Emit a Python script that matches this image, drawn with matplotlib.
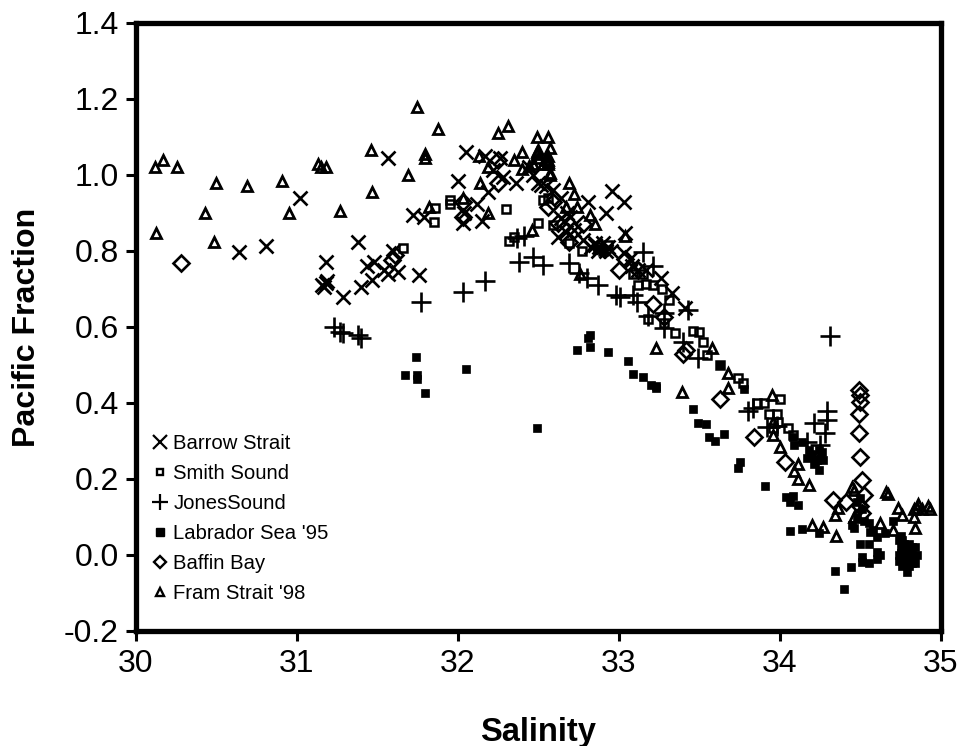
import matplotlib
matplotlib.use("Agg")
import matplotlib.pyplot as plt
from matplotlib.lines import Line2D

plt.rcParams['font.family'] = ['Liberation Sans', 'DejaVu Sans']

barrow_x = [30.64, 30.81, 31.02, 31.18, 31.16, 31.19, 31.17, 31.18, 31.29, 31.38, 31.40, 31.47, 31.44, 31.48,
            31.54, 31.57, 31.63, 31.60, 31.57, 31.76, 31.72, 31.79, 32.00, 32.05, 32.03, 32.04, 32.12, 32.15,
            32.19, 32.17, 32.26, 32.22, 32.36, 32.28, 32.50, 32.44, 32.64, 32.59, 32.81, 32.96, 33.03, 32.92,
            32.62, 32.64, 32.72, 32.85, 32.88, 32.92, 33.04, 33.03, 33.07, 33.26, 33.33, 33.41, 32.52, 32.47,
            32.55, 32.67, 32.78, 33.17, 32.85, 32.87, 32.90, 32.83, 32.93, 32.95, 32.70, 32.68, 32.66, 33.08,
            33.12]
barrow_y = [0.797, 0.813, 0.94, 0.77, 0.71, 0.72, 0.705, 0.715, 0.68, 0.823, 0.705, 0.725, 0.76, 0.77,
            0.75, 0.74, 0.745, 0.80, 1.045, 0.737, 0.895, 0.89, 0.985, 1.06, 0.875, 0.90, 0.925, 0.88,
            0.955, 1.05, 1.045, 1.013, 0.98, 0.995, 0.98, 1.02, 0.94, 0.96, 0.93, 0.958, 0.93, 0.90,
            0.837, 0.887, 0.855, 0.815, 0.81, 0.80, 0.847, 0.795, 0.78, 0.73, 0.69, 0.65, 0.975, 1.0,
            0.97, 0.85, 0.83, 0.75, 0.82, 0.80, 0.82, 0.81, 0.81, 0.80, 0.89, 0.90, 0.88, 0.76,
            0.75]

smith_x = [31.66, 31.86, 31.85, 31.95, 31.95, 32.30, 32.32, 32.35, 32.50, 32.53, 32.56, 32.59, 32.69, 32.77,
           33.15, 33.17, 33.21, 33.27, 33.31, 33.18, 33.28, 33.35, 33.46, 33.50, 33.52, 33.55, 33.63, 33.74,
           33.77, 33.86, 33.90, 34.00, 33.93, 33.98, 33.99, 34.05, 33.96, 34.08, 32.87, 32.90, 32.93, 33.12,
           33.09]
smith_y = [0.808, 0.913, 0.876, 0.935, 0.925, 0.91, 0.827, 0.837, 0.873, 0.934, 0.94, 0.868, 0.82, 0.80,
           0.74, 0.713, 0.71, 0.70, 0.67, 0.62, 0.61, 0.585, 0.59, 0.587, 0.56, 0.526, 0.50, 0.465,
           0.452, 0.40, 0.40, 0.41, 0.37, 0.37, 0.35, 0.334, 0.334, 0.315, 0.81, 0.80, 0.815, 0.71,
           0.74]

jones_x = [31.23, 31.27, 31.29, 31.38, 31.40, 31.77, 32.03, 32.17, 32.38, 32.47, 32.53, 32.69, 32.75, 32.80,
           32.87, 32.98, 33.01, 33.09, 33.15, 33.21, 32.41, 32.37, 33.11, 33.18, 33.28, 33.28, 33.43, 33.40,
           33.49, 33.80, 33.83, 33.92, 33.98, 34.31, 34.29, 34.29, 34.21, 34.28, 34.25, 34.17]
jones_y = [0.60, 0.587, 0.584, 0.579, 0.571, 0.665, 0.692, 0.72, 0.771, 0.784, 0.763, 0.768, 0.742, 0.729,
           0.71, 0.684, 0.68, 0.684, 0.797, 0.76, 0.84, 0.834, 0.666, 0.63, 0.637, 0.597, 0.645, 0.56,
           0.518, 0.38, 0.387, 0.337, 0.34, 0.576, 0.38, 0.355, 0.347, 0.32, 0.29, 0.297]

labrador_x = [31.67, 31.74, 31.75, 31.75, 31.80, 32.05, 32.49, 32.82, 32.81, 32.74, 32.82, 32.93, 33.06, 33.09,
              33.15, 33.20, 33.23, 33.23, 33.46, 33.49, 33.54, 33.56, 33.60, 33.65, 33.75, 33.74, 33.78, 33.91,
              34.04, 34.06, 34.11, 34.08, 34.06, 34.14, 34.24, 34.34, 34.44, 34.40, 34.08, 34.09, 34.14, 34.18,
              34.20, 34.24, 34.25, 34.22, 34.24, 34.17, 34.27, 34.48, 34.45, 34.55, 34.58, 34.60, 34.65, 34.70,
              34.50, 34.55, 34.51, 34.51, 34.55, 34.60, 34.62, 34.60, 34.76, 34.75, 34.74, 34.76, 34.78, 34.80,
              34.79, 34.82, 34.83, 34.81, 34.79, 34.77, 34.74, 34.82, 33.63, 34.75, 34.80, 34.50, 34.51, 34.48,
              34.46, 34.52, 34.56, 34.74, 34.75, 34.80, 34.84, 34.85, 34.84, 34.78, 34.76, 34.23, 34.26, 34.21,
              34.19]
labrador_y = [0.474, 0.521, 0.474, 0.463, 0.426, 0.489, 0.334, 0.58, 0.57, 0.54, 0.547, 0.534, 0.51, 0.476,
              0.468, 0.447, 0.44, 0.445, 0.384, 0.347, 0.345, 0.31, 0.30, 0.318, 0.245, 0.23, 0.437, 0.182,
              0.153, 0.14, 0.132, 0.155, 0.063, 0.068, 0.058, -0.042, -0.032, -0.09, 0.31, 0.29, 0.297, 0.276,
              0.263, 0.276, 0.255, 0.245, 0.224, 0.255, 0.25, 0.14, 0.08, 0.085, 0.065, 0.048, 0.058, 0.09,
              0.03, 0.03, -0.005, -0.018, -0.02, -0.01, 0.0, 0.008, 0.04, 0.02, 0.0, -0.01, -0.02, -0.03,
              -0.045, -0.02, -0.01, 0.0, 0.01, 0.03, -0.015, 0.02, 0.50, 0.005, -0.005, 0.15, 0.12, 0.10,
              0.07, 0.09, 0.06, 0.04, 0.05, 0.03, 0.02, 0.0, -0.02, 0.0, -0.03, 0.25, 0.27, 0.24,
              0.265]

baffin_x = [30.28, 31.61, 31.59, 32.03, 32.03, 32.25, 32.25, 32.56, 32.59, 32.78, 32.62, 32.72, 32.69, 33.00,
            33.04, 33.12, 33.21, 33.28, 33.40, 33.42, 33.63, 33.84, 34.03, 34.33, 34.41, 34.49, 34.50, 34.50,
            34.49, 34.49, 34.50, 34.51, 34.52, 34.50, 34.51]
baffin_y = [0.768, 0.79, 0.776, 0.93, 0.89, 0.98, 1.04, 0.915, 0.93, 0.87, 0.873, 0.855, 0.824, 0.75,
            0.78, 0.75, 0.66, 0.626, 0.53, 0.54, 0.41, 0.31, 0.245, 0.145, 0.14, 0.434, 0.42, 0.403,
            0.37, 0.32, 0.258, 0.197, 0.158, 0.13, 0.11]

fram_x = [30.13, 30.12, 30.17, 30.26, 30.50, 30.43, 30.49, 30.69, 30.91, 30.95, 31.13, 31.15, 31.18, 31.27,
          31.46, 31.47, 31.75, 31.88, 32.25, 31.80, 31.80, 31.69, 31.82, 32.03, 32.13, 32.14, 32.19, 32.19,
          32.31, 32.49, 32.56, 32.57, 32.56, 32.57, 32.49, 32.40, 32.35, 32.44, 32.40, 32.69, 32.72, 32.67,
          32.74, 32.85, 32.82, 32.46, 32.76, 33.04, 33.23, 33.39, 33.58, 33.68, 33.68, 33.95, 33.96, 33.96,
          34.00, 34.11, 34.09, 34.11, 34.18, 34.36, 34.34, 34.20, 34.27, 34.35, 34.45, 34.66, 34.46, 34.62,
          34.70, 34.84, 34.73, 34.76, 34.83, 34.86, 34.92, 34.83, 34.88, 34.93, 32.47, 32.54, 32.50, 32.53,
          32.56, 32.56, 32.57, 32.56, 32.49, 32.50, 34.46, 34.67, 34.85]
fram_y = [0.848, 1.02, 1.04, 1.02, 0.98, 0.90, 0.825, 0.97, 0.985, 0.90, 1.03, 1.02, 1.02, 0.905,
          1.065, 0.955, 1.18, 1.12, 1.11, 1.055, 1.045, 1.0, 0.915, 0.94, 1.05, 0.98, 0.90, 1.02,
          1.13, 1.10, 1.10, 1.07, 1.035, 1.005, 1.06, 1.06, 1.04, 1.025, 1.015, 0.98, 0.95, 0.915,
          0.915, 0.87, 0.895, 0.855, 0.74, 0.84, 0.545, 0.43, 0.545, 0.48, 0.44, 0.42, 0.35, 0.315,
          0.285, 0.24, 0.22, 0.20, 0.185, 0.125, 0.105, 0.08, 0.075, 0.05, 0.18, 0.165, 0.10, 0.085,
          0.065, 0.07, 0.125, 0.105, 0.10, 0.135, 0.13, 0.12, 0.12, 0.12, 1.03, 1.04, 1.045, 1.03,
          1.04, 1.03, 1.0, 1.05, 1.055, 1.065, 0.17, 0.16, 0.125]

labels = ["Barrow Strait", "Smith Sound", "JonesSound", "Labrador Sea '95", "Baffin Bay", "Fram Strait '98"]
x_ticks = [30, 31, 32, 33, 34, 35]
y_ticks = [-0.2, 0.0, 0.2, 0.4, 0.6, 0.8, 1.0, 1.2, 1.4]

fig = plt.figure(figsize=(9.6, 7.46), dpi=100)
ax = fig.add_axes([135.5 / 960, (746 - 631) / 746, (941 - 135.5) / 960, (631 - 23) / 746])

ax.plot(barrow_x, barrow_y, 'x', color='k', ms=10.5, mew=1.9)
ax.plot(smith_x, smith_y, 's', mfc='none', mec='k', ms=6, mew=1.8)
ax.plot(jones_x, jones_y, '+', color='k', ms=14, mew=1.9)
ax.plot(labrador_x, labrador_y, 's', color='k', ms=6, mew=0.5)
ax.plot(baffin_x, baffin_y, 'D', mfc='none', mec='k', ms=8.5, mew=1.9)
ax.plot(fram_x, fram_y, '^', mfc='none', mec='k', ms=6.5, mew=2.0)

ax.set_xlim(30, 35)
ax.set_ylim(-0.2, 1.4)
ax.set_xticks(x_ticks)
ax.set_yticks(y_ticks)
ax.set_yticklabels(['%.1f' % v for v in y_ticks])
ax.tick_params(axis='x', direction='out', length=7, width=2.2, labelsize=23, pad=6)
ax.tick_params(axis='y', direction='out', length=7, width=2.2, labelsize=23, pad=5)
for side in ax.spines.values():
    side.set_linewidth(3.8)

ax.set_xlabel('Salinity', fontsize=23.5, fontweight='bold', labelpad=27)
ax.set_ylabel('Pacific Fraction', fontsize=23.1, fontweight='bold', labelpad=15.5)

handles = [
    Line2D([], [], ls='none', marker='x', color='k', ms=10.5, mew=1.6),
    Line2D([], [], ls='none', marker='s', mfc='none', mec='k', ms=5, mew=1.7),
    Line2D([], [], ls='none', marker='+', color='k', ms=12, mew=1.6),
    Line2D([], [], ls='none', marker='s', color='k', ms=5.5),
    Line2D([], [], ls='none', marker='D', mfc='none', mec='k', ms=6.5, mew=1.7),
    Line2D([], [], ls='none', marker='^', mfc='none', mec='k', ms=5.5, mew=1.7),
]
ax.legend(handles, labels, loc='lower left', bbox_to_anchor=(0.0, 0.0225), frameon=False, fontsize=14.6,
          labelspacing=0.54, handlelength=1.0, handletextpad=0.15, borderaxespad=0, borderpad=0.71)

fig.savefig('out.png', dpi=100)
